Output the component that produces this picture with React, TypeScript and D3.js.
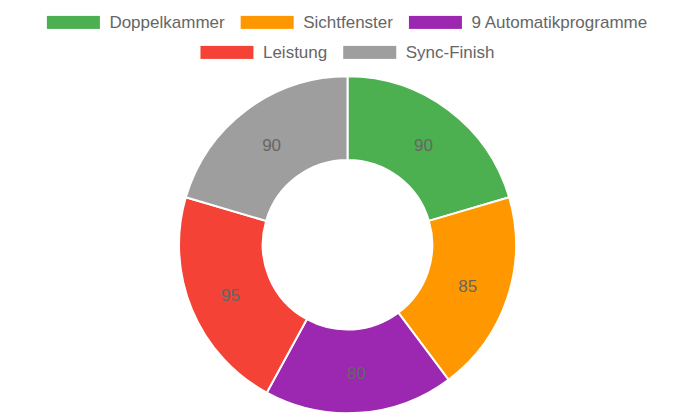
import React from "react";
import * as d3 from "d3";

const categories = ["Doppelkammer", "Sichtfenster", "9 Automatikprogramme", "Leistung", "Sync-Finish"];
const values = [90, 85, 80, 95, 90];
const colors = ["#4CAF50", "#FF9800", "#9C27B0", "#F44336", "#9E9E9E"];
const legendRows = [[0, 1, 2], [3, 4]];

const W = 695;
const H = 417;
const FONT = "'Liberation Sans', Arial, Helvetica, sans-serif";
const FS = 17;

function measure(text: string): number {
  const c = document.createElement("canvas");
  const ctx = c.getContext("2d");
  if (!ctx) return text.length * 9;
  ctx.font = `${FS}px ${FONT}`;
  return ctx.measureText(text).width;
}

export default function App() {
  const cx = 347.5;
  const cy = 244.8;
  const outer = 168.5;
  const inner = 84.8;

  const pie = d3.pie<number>().sort(null).value((d) => d)(values);
  const arc = d3.arc<d3.PieArcDatum<number>>().innerRadius(inner).outerRadius(outer);
  const labelArc = d3.arc<d3.PieArcDatum<number>>().innerRadius((inner + outer) / 2).outerRadius((inner + outer) / 2);

  const boxW = 53;
  const boxH = 13;
  const gapText = 9.5;
  const pad = 16;
  const rowY = [22.4, 52.4];

  const legendItems: React.ReactNode[] = [];
  legendRows.forEach((row, ri) => {
    const widths = row.map((i) => boxW + gapText + measure(categories[i]));
    const total = widths.reduce((a, b) => a + b, 0) + pad * (row.length - 1);
    let x = W / 2 - total / 2;
    row.forEach((i, k) => {
      legendItems.push(
        <g key={`l${i}`}>
          <rect x={x} y={rowY[ri] - boxH / 2} width={boxW} height={boxH} fill={colors[i]} />
          <text x={x + boxW + gapText} y={rowY[ri] + 6} fontSize={FS} fill="#666" fontFamily={FONT}>
            {categories[i]}
          </text>
        </g>
      );
      x += widths[k] + pad;
    });
  });

  return (
    <svg width={W} height={H} style={{ position: "absolute", left: 0, top: 0 }}>
      <rect width={W} height={H} fill="#fff" />
      {legendItems}
      <g transform={`translate(${cx},${cy})`}>
        {pie.map((d, i) => (
          <path key={i} d={arc(d) || ""} fill={colors[i]} stroke="#fff" strokeWidth={2} />
        ))}
        {pie.map((d, i) => {
          const [lx, ly] = labelArc.centroid(d);
          return (
            <text key={`t${i}`} x={lx} y={ly + 7.5} textAnchor="middle" fontSize={FS} fill="#666" fontFamily={FONT}>
              {values[i]}
            </text>
          );
        })}
      </g>
    </svg>
  );
}
